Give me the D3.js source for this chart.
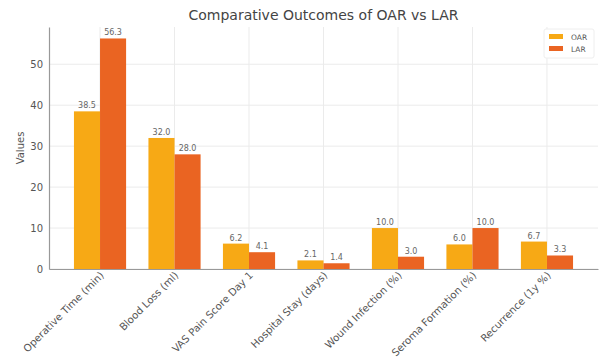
<!DOCTYPE html>
<html><head><meta charset="utf-8">
<script src="https://cdn.jsdelivr.net/npm/d3@7"></script>
<style>body{margin:0;background:#fff}svg{display:block}text{font-family:"DejaVu Sans",sans-serif}</style>
</head><body><svg id="c" width="604" height="358"></svg>
<script>
const categories = ["Operative Time (min)","Blood Loss (ml)","VAS Pain Score Day 1","Hospital Stay (days)","Wound Infection (%)","Seroma Formation (%)","Recurrence (1y %)"];
const oarValues = [38.5,32.0,6.2,2.1,10.0,6.0,6.7];
const larValues = [56.3,28.0,4.1,1.4,3.0,10.0,3.3];
const yTicks = [0,10,20,30,40,50];
const seriesNames = ["OAR","LAR"];
const colors = ["#f7a915","#ea6422"];

const svg = d3.select("#c");
const L = 49, R = 598, T = 27, B = 269;
const x = d3.scaleLinear().domain([-0.685, categories.length - 1 + 0.685]).range([L, R]);
const y = d3.scaleLinear().domain([0, 59.1]).range([B, T]);
const bw = 0.35;

// grid
svg.append("g").selectAll("line").data(yTicks).join("line")
  .attr("x1", L).attr("x2", R).attr("y1", d => y(d)).attr("y2", d => y(d))
  .attr("stroke", "#ebebeb").attr("stroke-width", 1);
svg.append("g").selectAll("line").data(categories).join("line")
  .attr("x1", (d,i) => x(i)).attr("x2", (d,i) => x(i)).attr("y1", T).attr("y2", B)
  .attr("stroke", "#ebebeb").attr("stroke-width", 1);

const series = [oarValues, larValues];
series.forEach((vals, s) => {
  const off = s === 0 ? -bw : 0;
  svg.append("g").selectAll("rect").data(vals).join("rect")
    .attr("x", (d,i) => x(i + off)).attr("width", x(bw) - x(0))
    .attr("y", d => y(d)).attr("height", d => y(0) - y(d))
    .attr("fill", colors[s]);
  svg.append("g").selectAll("text").data(vals).join("text")
    .attr("x", (d,i) => x(i + off + bw/2)).attr("y", d => y(d) - 3)
    .attr("text-anchor", "middle").attr("font-size", 8).attr("fill", "#666")
    .text(d => d.toFixed(1));
});

// axes
const yAxis = d3.axisLeft(y).tickValues(yTicks).tickSize(0).tickPadding(6);
const gy = svg.append("g").attr("transform", `translate(${L},0)`).call(yAxis);
gy.select(".domain").attr("stroke", "#999").attr("stroke-width", 1.2);
gy.selectAll("text").attr("font-size", 10).attr("fill", "#555").attr("font-family", "DejaVu Sans, sans-serif");

const xAxis = d3.axisBottom(x).tickValues(d3.range(categories.length)).tickFormat(i => categories[i]).tickSize(0).tickPadding(0);
const gx = svg.append("g").attr("transform", `translate(0,${B})`).call(xAxis);
gx.select(".domain").attr("stroke", "#999").attr("stroke-width", 1.2);
gx.selectAll("text").attr("font-size", 10.2).attr("fill", "#555").attr("font-family", "DejaVu Sans, sans-serif")
  .attr("text-anchor", "end").attr("dy", null).attr("y", 0)
  .attr("transform", "translate(4,7) rotate(-45)");

// title & labels
svg.append("text").attr("x", (L+R)/2).attr("y", 20).attr("text-anchor", "middle")
  .attr("font-size", 14).attr("fill", "#444").text("Comparative Outcomes of OAR vs LAR");
svg.append("text").attr("transform", `translate(24,${(T+B)/2}) rotate(-90)`).attr("text-anchor", "middle")
  .attr("font-size", 10).attr("fill", "#555").text("Values");

// legend
const lg = svg.append("g").attr("transform", "translate(544,29)");
lg.append("rect").attr("width", 50).attr("height", 29).attr("fill", "#fff").attr("stroke", "#eee").attr("rx", 2);
seriesNames.forEach((n, i) => {
  lg.append("rect").attr("x", 5).attr("y", 5 + i*12).attr("width", 14).attr("height", 5).attr("fill", colors[i]);
  lg.append("text").attr("x", 27).attr("y", 11 + i*12).attr("font-size", 7.5).attr("fill", "#555").text(n);
});
</script></body></html>
